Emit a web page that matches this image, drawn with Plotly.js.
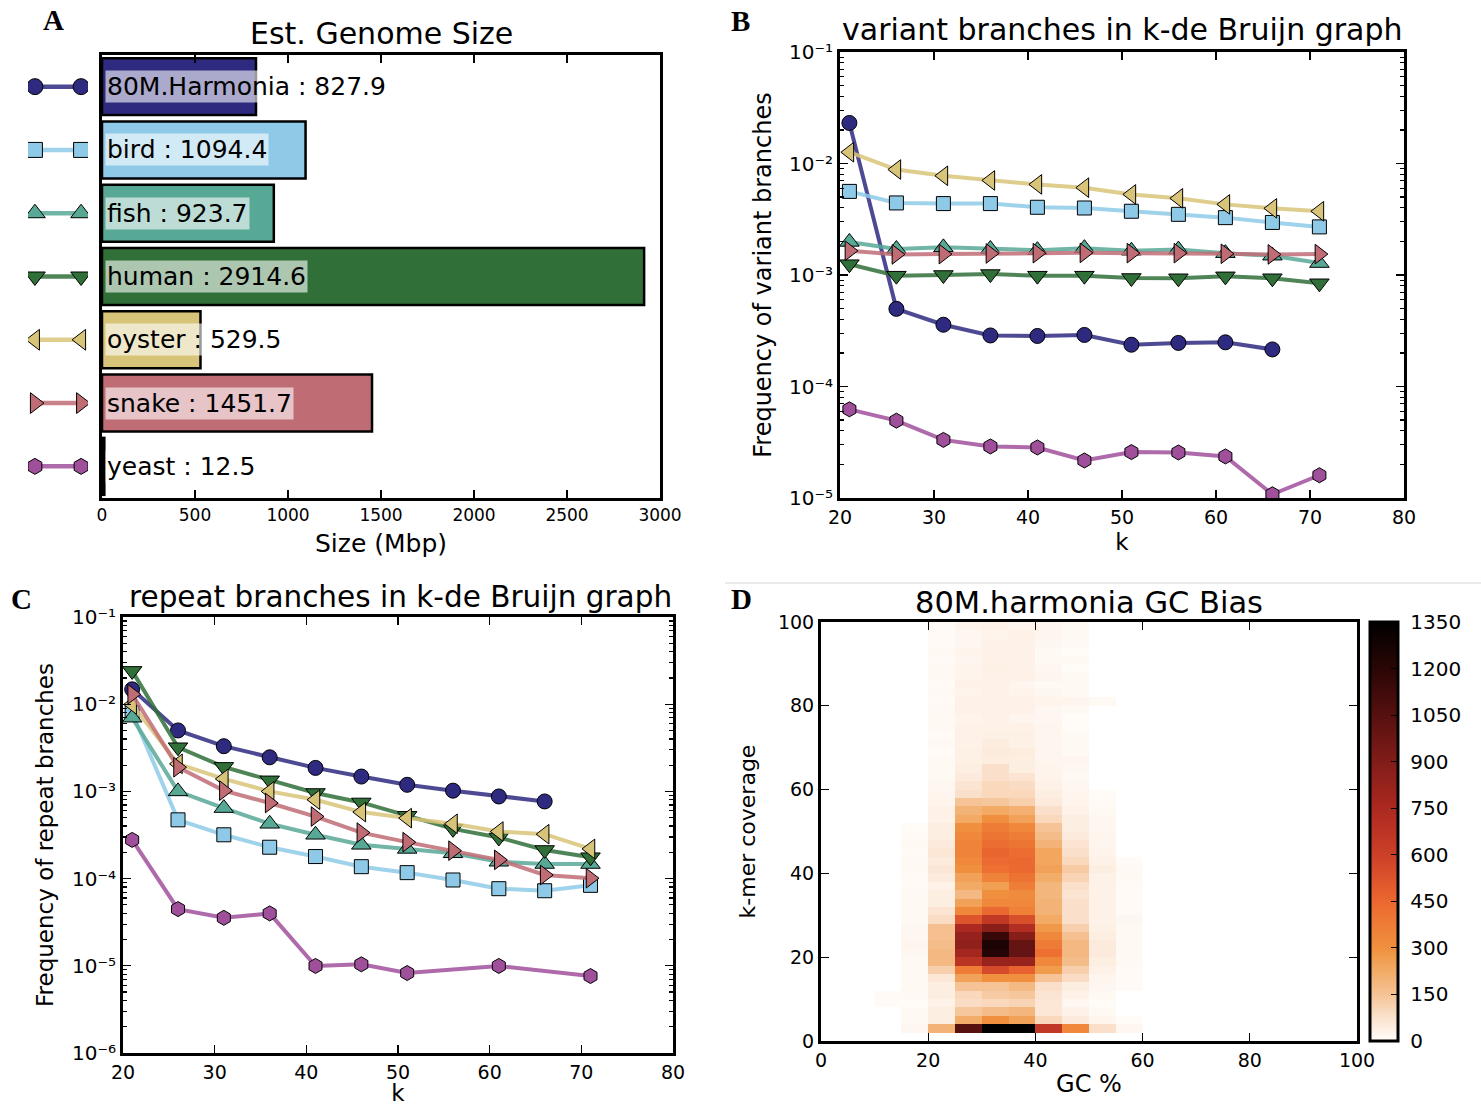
<!DOCTYPE html>
<html><head><meta charset="utf-8">
<script src="https://cdn.plot.ly/plotly-3.0.1.min.js"></script>
<style>body{margin:0;background:#fff}</style>
</head><body>
<div id="chart" style="width:1481px;height:1106px"></div>
<script>
// ---------- Panel A: genome sizes ----------
const species = ['80M.Harmonia','bird','fish','human','oyster','snake','yeast'];
const genomeSize = [827.9, 1094.4, 923.7, 2914.6, 529.5, 1451.7, 12.5];
const colors = ['#2e2a80','#8ecae8','#58a896','#307038','#d8c478','#c06c74','#a0509b'];
const lineColors = ['rgba(46,42,128,0.85)','rgba(142,202,232,0.85)','rgba(88,168,150,0.85)','rgba(48,112,56,0.85)','rgba(216,196,120,0.85)','rgba(192,108,116,0.85)','rgba(160,80,155,0.85)'];
const symbols = ['circle','square','triangle-up','triangle-down','triangle-left','triangle-right','hexagon'];
const markerSizes = [15, 14, 17, 17, 17, 17, 15];

// ---------- Panel B: variant branches ----------
const kFull = [21,26,31,36,41,46,51,56,61,66,71];
const kHarmonia = [21,26,31,36,41,46,51,56,61,66];
const varHarmonia = [0.0231, 4.97e-4, 3.58e-4, 2.87e-4, 2.84e-4, 2.90e-4, 2.37e-4, 2.46e-4, 2.49e-4, 2.15e-4];
const varBird   = [5.62e-3, 4.43e-3, 4.37e-3, 4.37e-3, 4.05e-3, 3.99e-3, 3.73e-3, 3.50e-3, 3.27e-3, 2.96e-3, 2.70e-3];
const varFish   = [1.98e-3, 1.71e-3, 1.77e-3, 1.71e-3, 1.67e-3, 1.74e-3, 1.65e-3, 1.69e-3, 1.57e-3, 1.49e-3, 1.28e-3];
const varHuman  = [1.25e-3, 9.86e-4, 1.0e-3, 1.02e-3, 9.86e-4, 9.86e-4, 9.40e-4, 9.35e-4, 9.73e-4, 9.35e-4, 8.43e-4];
const varOyster = [1.262e-2, 8.83e-3, 7.76e-3, 7.05e-3, 6.49e-3, 6.07e-3, 5.28e-3, 4.87e-3, 4.30e-3, 3.96e-3, 3.73e-3];
const varSnake  = [1.65e-3, 1.53e-3, 1.54e-3, 1.56e-3, 1.57e-3, 1.58e-3, 1.57e-3, 1.57e-3, 1.55e-3, 1.53e-3, 1.54e-3];
const varYeast  = [6.24e-5, 4.94e-5, 3.32e-5, 2.90e-5, 2.84e-5, 2.17e-5, 2.58e-5, 2.56e-5, 2.36e-5, 1.08e-5, 1.60e-5];

// ---------- Panel C: repeat branches ----------
const kYeastRepeat = [21,26,31,36,41,46,51,61,71];
const repHarmonia = [1.48e-2, 5.0e-3, 3.30e-3, 2.46e-3, 1.86e-3, 1.48e-3, 1.19e-3, 1.02e-3, 8.75e-4, 7.67e-4];
const repBird   = [7.98e-3, 4.72e-4, 3.18e-4, 2.29e-4, 1.79e-4, 1.37e-4, 1.17e-4, 9.64e-5, 7.66e-5, 7.26e-5, 8.37e-5];
const repFish   = [7.0e-3, 1.0e-3, 6.44e-4, 4.25e-4, 3.18e-4, 2.44e-4, 2.19e-4, 1.95e-4, 1.56e-4, 1.47e-4, 1.47e-4];
const repHuman  = [2.41e-2, 3.21e-3, 1.91e-3, 1.34e-3, 9.59e-4, 7.47e-4, 5.25e-4, 3.72e-4, 2.96e-4, 2.13e-4, 1.76e-4];
const repOyster = [9.95e-3, 2.07e-3, 1.39e-3, 1.0e-3, 8.02e-4, 5.79e-4, 4.94e-4, 4.25e-4, 3.47e-4, 3.23e-4, 2.19e-4];
const repSnake  = [1.30e-2, 1.89e-3, 1.02e-3, 7.36e-4, 5.15e-4, 3.37e-4, 2.62e-4, 2.09e-4, 1.64e-4, 1.10e-4, 1.01e-4];
const repYeast  = [2.78e-4, 4.47e-5, 3.55e-5, 3.99e-5, 9.96e-6, 1.04e-5, 8.26e-6, 9.96e-6, 7.63e-6];

// ---------- Panel D: GC bias 2D histogram (bins: GC 5%, coverage 2) ----------
const gcBinCenters = [12.5, 17.5, 22.5, 27.5, 32.5, 37.5, 42.5, 47.5, 52.5, 57.5];
const covBinCenters = [1,3,5,7,9,11,13,15,17,19,21,23,25,27,29,31,33,35,37,39,41,43,45,47,49,51,53,55,57,59,61,63,65,67,69,71,73,75,77,79,81,83,85,87,89,91,93,95,97,99];
const gc10_15 = [0,0,0,0,8,8,0,0,0,0, 0,0,0,0,0,0,0,0,0,0, 0,0,0,0,0,0,0,0,0,0, 0,0,0,0,0,0,0,0,0,0, 0,0,0,0,0,0,0,0,0,0];
const gc15_20 = [0,15,10,10,5,10,10,10,12,12, 15,20,15,15,10,10,10,10,8,8, 10,10,8,10,8,5,0,0,0,0, 0,0,0,0,0,0,0,0,0,0, 0,0,0,0,0,0,0,0,0,0];
const gc20_25 = [0,200,40,40,30,40,40,60,120,180, 180,170,160,160,90,70,40,40,30,50, 60,50,60,50,40,40,30,30,25,20, 15,10,10,10,8,10,8,10,10,10, 8,10,8,10,10,8,10,8,8,8];
const gc25_30 = [0,1050,220,140,90,100,150,250,380,680, 780,850,830,750,520,330,250,180,230,250, 300,330,350,350,330,300,230,200,150,80, 70,50,40,35,35,30,30,30,25,30, 30,25,30,25,25,20,25,15,15,25];
const gc30_35 = [0,1400,300,170,100,130,150,300,560,820, 1220,1250,1150,870,650,450,330,300,260,350, 420,440,460,430,400,380,300,230,140,100, 100,80,80,45,50,45,35,30,30,30, 30,30,30,30,35,30,30,30,25,30];
const gc35_40 = [0,1400,250,190,110,140,180,300,470,820, 1000,1000,880,720,540,360,330,320,370,410, 450,450,430,400,370,330,250,210,120,100, 90,70,40,40,45,35,35,30,20,30, 30,25,20,30,30,30,30,30,30,20];
const gc40_45 = [0,650,100,60,60,70,80,150,270,330, 420,380,330,280,230,200,200,190,190,220, 250,240,240,200,170,150,100,80,50,40, 30,25,25,20,20,20,20,20,15,15, 25,15,10,20,15,10,10,15,20,20];
const gc45_50 = [0,330,50,30,15,30,40,90,120,170, 180,180,160,120,80,80,80,70,80,110, 130,100,80,70,50,40,40,30,25,20, 15,10,15,20,10,10,10,5,5,10, 20,10,10,10,5,10,5,10,10,10];
const gc50_55 = [0,80,20,10,5,10,15,20,30,40, 50,50,40,35,30,30,30,30,30,30, 40,30,25,20,20,15,15,10,8,5, 0,0,0,0,0,0,0,0,0,0, 10,0,0,0,0,0,0,0,0,0];
const gc55_60 = [0,15,5,0,0,0,8,8,8,10, 10,12,10,12,15,8,8,8,8,10, 10,5,0,0,0,0,0,0,0,0, 0,0,0,0,0,0,0,0,0,0, 0,0,0,0,0,0,0,0,0,0];
const colorbarTicks = [0,150,300,450,600,750,900,1050,1200,1350];

// ---------- helpers ----------
const W = 1481, H = 1106;
const px = v => v / W;
const py = v => 1 - v / H;
const FONT = 'DejaVu Sans, sans-serif';
const SUP = {'-': '\u207B', '0': '\u2070', '1': '\u00B9', '2': '\u00B2', '3': '\u00B3', '4': '\u2074', '5': '\u2075', '6': '\u2076'};

function boxAxis(extra) {
  return Object.assign({
    showline: true, linewidth: 3, linecolor: '#000', mirror: 'allticks',
    ticks: 'inside', ticklen: 8, tickwidth: 1.2, tickcolor: '#000',
    showgrid: false, zeroline: false,
    tickfont: {family: FONT, size: 19, color: '#000'}
  }, extra);
}
function logTicks(lo, hi) {
  const vals = [], text = [], minor = [];
  for (let e = lo; e <= hi; e++) {
    vals.push(Math.pow(10, e));
    text.push('10' + String(e).split('').map(c => SUP[c]).join(''));
    if (e < hi) for (let m = 2; m <= 9; m++) minor.push(m * Math.pow(10, e));
  }
  return {vals, text, minor};
}

const traces = [];

// Panel A bars
traces.push({
  type: 'bar', orientation: 'h', y: species, x: genomeSize, width: 0.9,
  marker: {color: colors, line: {color: '#000', width: 2.5}},
  xaxis: 'x', yaxis: 'y', showlegend: false, hoverinfo: 'skip'
});
// Panel A legend glyphs
species.forEach((s, i) => {
  traces.push({
    type: 'scatter', mode: 'lines+markers', x: [0, 1], y: [s, s],
    xaxis: 'x5', yaxis: 'y', showlegend: false, hoverinfo: 'skip',
    line: {color: lineColors[i], width: 4.5},
    marker: {symbol: symbols[i], size: markerSizes[i] + 1, color: colors[i], line: {color: '#000', width: 1}}
  });
});

function seriesTrace(i, xs, ys, xa, ya) {
  return {
    type: 'scatter', mode: 'lines+markers', x: xs, y: ys, name: species[i],
    xaxis: xa, yaxis: ya, showlegend: false,
    line: {color: lineColors[i], width: 4},
    marker: {symbol: symbols[i], size: markerSizes[i], color: colors[i], line: {color: '#000', width: 1}}
  };
}
// Panel B
const varData = [[kHarmonia, varHarmonia],[kFull, varBird],[kFull, varFish],[kFull, varHuman],[kFull, varOyster],[kFull, varSnake],[kFull, varYeast]];
varData.forEach((d, i) => traces.push(seriesTrace(i, d[0], d[1], 'x2', 'y2')));
// Panel C
const repData = [[kHarmonia, repHarmonia],[kFull, repBird],[kFull, repFish],[kFull, repHuman],[kFull, repOyster],[kFull, repSnake],[kYeastRepeat, repYeast]];
repData.forEach((d, i) => traces.push(seriesTrace(i, d[0], d[1], 'x3', 'y3')));

// Panel D heatmap
const gcCols = [gc10_15, gc15_20, gc20_25, gc25_30, gc30_35, gc35_40, gc40_45, gc45_50, gc50_55, gc55_60];
const zMat = covBinCenters.map((_, r) => gcCols.map(col => col[r] > 0 ? col[r] : null));
traces.push({
  type: 'heatmap', x: gcBinCenters, y: covBinCenters, z: zMat,
  xaxis: 'x4', yaxis: 'y4', zmin: 0, zmax: 1350, hoverinfo: 'skip',
  colorscale: [
    [0, 'rgb(255,253,250)'], [0.02, 'rgb(254,243,234)'], [0.06, 'rgb(250,224,202)'],
    [0.11, 'rgb(245,195,150)'], [0.17, 'rgb(242,170,100)'], [0.22, 'rgb(240,145,62)'],
    [0.33, 'rgb(236,105,48)'], [0.44, 'rgb(205,65,40)'], [0.56, 'rgb(170,40,32)'],
    [0.67, 'rgb(128,28,24)'], [0.78, 'rgb(85,16,14)'], [0.89, 'rgb(42,6,6)'], [1, 'rgb(0,0,0)']
  ],
  colorbar: {
    x: px(1370), xanchor: 'left', xpad: 0, y: py(1041), yanchor: 'bottom', ypad: 0,
    len: 419 / H, lenmode: 'fraction', thickness: 28, thicknessmode: 'pixels',
    outlinewidth: 3, outlinecolor: '#000',
    tickmode: 'array', tickvals: colorbarTicks, ticktext: colorbarTicks.map(v => '\u00A0' + v),
    ticks: 'inside', ticklen: 8, tickcolor: '#000',
    tickfont: {family: FONT, size: 20, color: '#000'}
  }
});

const tB = logTicks(-5, -1), tC = logTicks(-6, -1);
const titleFont = s => ({family: FONT, size: s, color: '#000'});

const layout = {
  width: W, height: H, margin: {l: 0, r: 0, t: 0, b: 0},
  paper_bgcolor: '#fff', plot_bgcolor: 'rgba(0,0,0,0)',
  font: {family: FONT, color: '#000'}, showlegend: false,
  bargap: 0.1,
  // Panel A
  xaxis: boxAxis({domain: [px(102), px(660)], range: [0, 3000], dtick: 500, anchor: 'y',
    tickfont: {family: FONT, size: 17, color: '#000'},
    title: {text: 'Size (Mbp)', font: titleFont(25), standoff: 11}}),
  yaxis: boxAxis({domain: [py(498), py(55)], type: 'category', categoryarray: species, categoryorder: 'array',
    range: [6.5, -0.5], showticklabels: false, ticks: '', mirror: true, anchor: 'x'}),
  xaxis5: {domain: [px(28), px(88)], range: [-0.15, 1.15], visible: false, anchor: 'y'},
  // Panel B
  xaxis2: boxAxis({domain: [px(840), px(1404)], range: [20, 80], dtick: 10, anchor: 'y2',
    title: {text: 'k', font: titleFont(23), standoff: 8}}),
  yaxis2: boxAxis({domain: [py(498), py(52)], type: 'log', range: [-5, -1], anchor: 'x2',
    tickmode: 'array', tickvals: tB.vals, ticktext: tB.text, tickfont: {family: FONT, size: 20, color: '#000'},
    minor: {tickmode: 'array', tickvals: tB.minor, ticks: 'inside', ticklen: 4, tickcolor: '#000', showgrid: false},
    title: {text: 'Frequency of variant branches', font: titleFont(24), standoff: 11}}),
  // Panel C
  xaxis3: boxAxis({domain: [px(123), px(673)], range: [20, 80], dtick: 10, anchor: 'y3',
    title: {text: 'k', font: titleFont(23), standoff: 14}}),
  yaxis3: boxAxis({domain: [py(1053), py(617)], type: 'log', range: [-6, -1], anchor: 'x3',
    tickmode: 'array', tickvals: tC.vals, ticktext: tC.text, tickfont: {family: FONT, size: 20, color: '#000'},
    minor: {tickmode: 'array', tickvals: tC.minor, ticks: 'inside', ticklen: 4, tickcolor: '#000', showgrid: false},
    title: {text: 'Frequency of repeat branches', font: titleFont(23), standoff: 12}}),
  // Panel D
  xaxis4: boxAxis({domain: [px(821), px(1357)], range: [0, 100], dtick: 20, anchor: 'y4',
    title: {text: 'GC %', font: titleFont(24), standoff: 6}}),
  yaxis4: boxAxis({domain: [py(1041), py(622)], range: [0, 100], dtick: 20, anchor: 'x4',
    title: {text: 'k-mer coverage', font: titleFont(22), standoff: 17}}),
  shapes: [
    {type: 'line', xref: 'paper', yref: 'paper', x0: px(725), x1: 1, y0: py(583), y1: py(583),
     line: {color: '#d4d4d4', width: 1}}
  ],
  annotations: []
};

// Panel titles and letters
const ann = layout.annotations;
const addText = (x, y, text, size, extra) => ann.push(Object.assign({
  xref: 'paper', yref: 'paper', x: px(x), y: py(y), text, showarrow: false,
  xanchor: 'center', yanchor: 'middle', font: titleFont(size)
}, extra || {}));
addText(382, 33, 'Est. Genome Size', 30);
addText(1122, 29, 'variant branches in k-de Bruijn graph', 30);
addText(400, 597, 'repeat branches in k-de Bruijn graph', 29.5);
addText(1089, 602, '80M.harmonia GC Bias', 30.5);
const letterFont = {family: 'Liberation Serif, serif', size: 29, color: '#000'};
addText(53, 20, '<b>A</b>', 29, {font: letterFont});
addText(740, 21, '<b>B</b>', 29, {font: letterFont});
addText(21, 599, '<b>C</b>', 29, {font: letterFont});
addText(741, 599, '<b>D</b>', 29, {font: letterFont});

// Bar value labels
species.forEach((s, i) => ann.push({
  xref: 'x', yref: 'y', x: 0, y: s, xanchor: 'left', yanchor: 'middle', xshift: 3,
  text: s + ' : ' + genomeSize[i].toFixed(1), showarrow: false,
  bgcolor: 'rgba(255,255,255,0.6)', borderpad: 1,
  font: {family: FONT, size: 25, color: '#000'}
}));

Plotly.newPlot('chart', traces, layout, {displayModeBar: false, staticPlot: true});
</script>
</body></html>
